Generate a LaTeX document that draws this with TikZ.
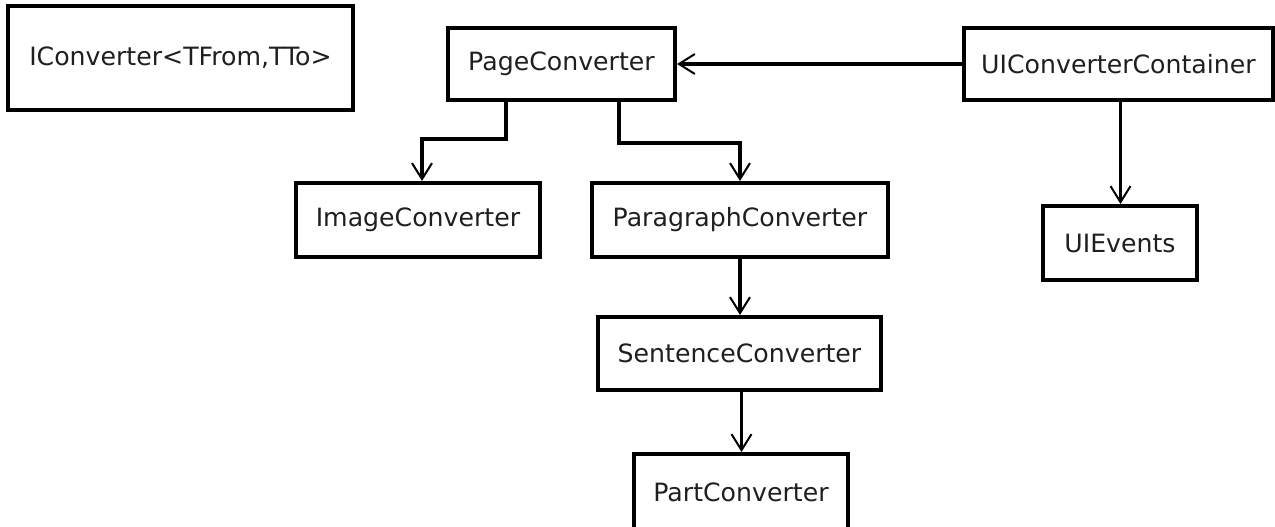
\documentclass[tikz,border=0pt]{standalone}
\usepackage{fontspec}
\setmainfont{DejaVu Sans}
\usetikzlibrary{arrows.meta}
\begin{document}
\begin{tikzpicture}[x=1pt,y=-1pt,
  box/.style={draw, line width=4pt, rectangle, inner sep=0pt, text=black!88, font=\fontsize{25.2}{28}\selectfont},
  arr/.style={line width=3.4pt, -{Straight Barb[length=16pt,width=20pt,line width=2pt]}}]
\useasboundingbox (0,0) rectangle (1275,527);
\node[box, minimum width=345pt, minimum height=104pt] (icv) at (180.5,58) {IConverter<TFrom,TTo>};
\node[box, minimum width=227pt, minimum height=72pt] (page) at (561.5,64) {PageConverter};
\node[box, minimum width=309pt, minimum height=72pt] (uicc) at (1118.5,64) {UIConverterContainer};
\node[box, minimum width=244pt, minimum height=74pt] (image) at (418,220) {ImageConverter};
\node[box, minimum width=296pt, minimum height=74pt] (para) at (740,220) {ParagraphConverter};
\node[box, minimum width=154pt, minimum height=74pt] (events) at (1120,243) {UIEvents};
\node[box, minimum width=283pt, minimum height=73pt] (sent) at (739.5,353.5) {SentenceConverter};
\node[box, minimum width=214pt, minimum height=76pt] (part) at (741,492) {PartConverter};
\coordinate (p1) at (422,139);
\coordinate (p2) at (740,143);
\draw[arr] (uicc.west) -- (page.east);
\draw[arr] ([xshift=-55.5pt]page.south) |- (p1) -- (p1 |- image.north);
\draw[arr] ([xshift=57.5pt]page.south) |- (p2) -- (p2 |- para.north);
\draw[arr] (para.south) -- (para.south |- sent.north);
\draw[arr] ([xshift=2pt]sent.south) -- ([xshift=2pt]sent.south |- part.north);
\draw[arr] ([xshift=2pt]uicc.south) -- ([xshift=2pt]uicc.south |- events.north);
\end{tikzpicture}
\end{document}
